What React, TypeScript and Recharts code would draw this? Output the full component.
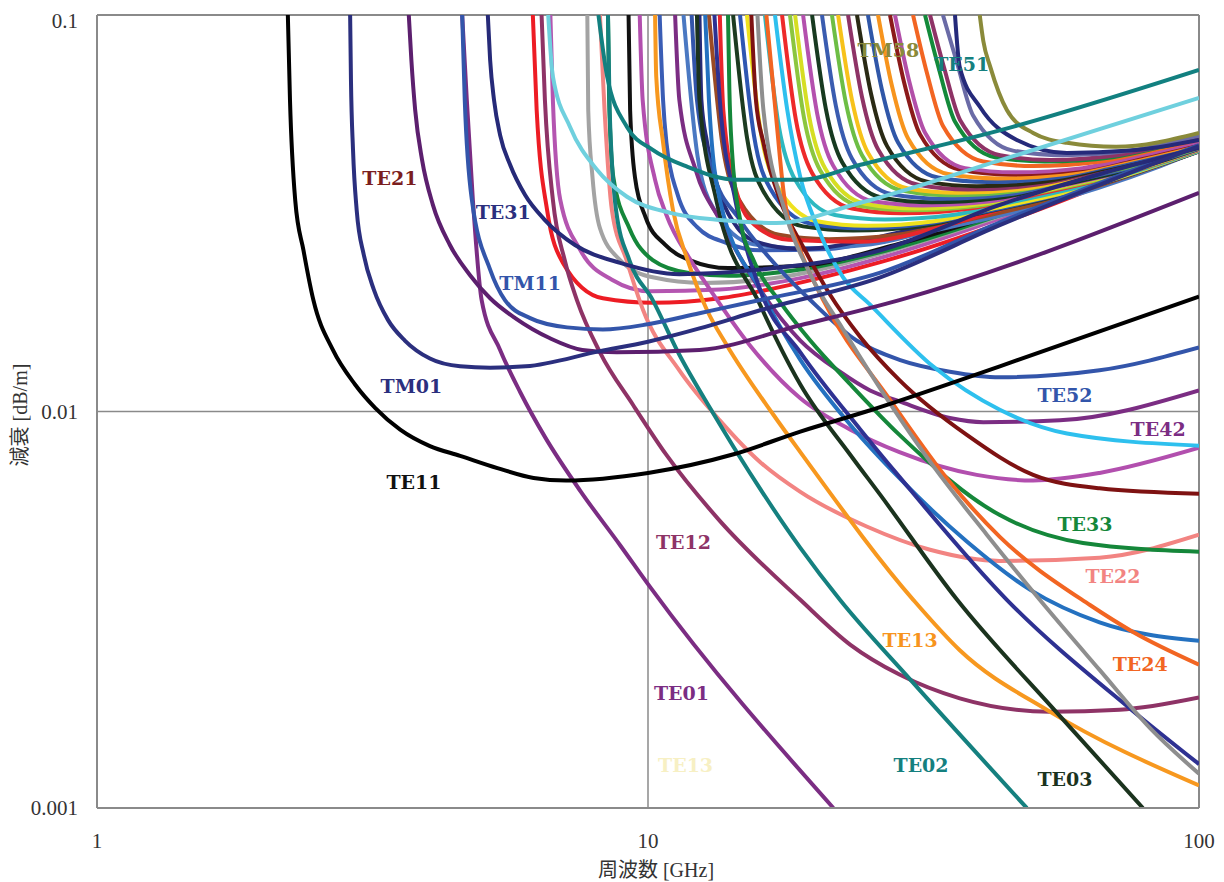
import React from 'react';
import { LineChart, Line, XAxis, YAxis, ReferenceLine, ReferenceDot } from 'recharts';

type Pt = [number, number]; // [frequency GHz, attenuation dB/m]

const xTicks = [1, 10, 100];
const yTicks = [0.001, 0.01, 0.1];

// low order modes
const te11: Pt[] = [[2.22, 0.1], [2.24, 0.061], [2.29, 0.034], [2.37, 0.0255], [2.47, 0.0191], [2.68, 0.0143], [2.94, 0.0117], [3.2, 0.0102], [3.55, 0.009], [4.02, 0.00818], [4.56, 0.00773], [5.33, 0.0072], [6.2, 0.0068], [7.1, 0.0067], [10, 0.007], [14.3, 0.0078], [18.9, 0.0089], [24.9, 0.01], [43.5, 0.013], [100, 0.0195]];
const tm01: Pt[] = [[2.88, 0.1], [2.89, 0.0686], [2.915, 0.0457], [2.96, 0.0322], [3.05, 0.0248], [3.18, 0.0203], [3.375, 0.017], [3.62, 0.0151], [4.02, 0.0136], [4.56, 0.013], [5.17, 0.0129], [6.0, 0.013], [8.18, 0.0142], [10, 0.015], [12.4, 0.0162], [15.97, 0.018], [26.4, 0.0218], [43.5, 0.0295], [100, 0.0467]];
const te21: Pt[] = [[3.68, 0.1], [3.72, 0.077], [3.78, 0.0575], [3.89, 0.0431], [4.07, 0.0332], [4.37, 0.0263], [4.75, 0.0221], [5.17, 0.0193], [5.74, 0.0172], [6.64, 0.0153], [7.6, 0.0143], [8.78, 0.0141], [12.4, 0.0143], [18.9, 0.0165], [28.6, 0.0191], [100, 0.0356]];
const te01: Pt[] = [[4.6, 0.1], [4.69, 0.061], [4.81, 0.0342], [4.99, 0.0191], [5.39, 0.0143], [5.86, 0.0112], [6.5, 0.00863], [7.54, 0.0063], [8.9, 0.0046], [10.1, 0.0036], [21.7, 0.001]];
const tm11: Pt[] = [[4.6, 0.1], [4.65, 0.061], [4.79, 0.0342], [5.17, 0.0228], [5.5, 0.0191], [6.11, 0.0172], [7.13, 0.0163], [8.28, 0.0161], [10, 0.0166], [12.4, 0.0177], [15.97, 0.0191], [26.4, 0.0224], [43.5, 0.03], [100, 0.047]];
const te31: Pt[] = [[5.12, 0.1], [5.17, 0.077], [5.255, 0.061], [5.39, 0.0498], [5.62, 0.0419], [5.98, 0.0352], [6.5, 0.0304], [7.37, 0.0263], [8.9, 0.0237], [11.4, 0.0222], [15.97, 0.0228], [26.4, 0.0255], [43.5, 0.0332], [100, 0.0462]];

// modes falling towards the lower right
const te12: Pt[] = [[6.41, 0.1], [6.5, 0.061], [6.72, 0.0342], [7.06, 0.0241], [7.43, 0.0191], [8.18, 0.0141], [9.39, 0.0104], [10.8, 0.00777], [13.5, 0.0053], [18.9, 0.00335], [23.3, 0.00258], [28.6, 0.00217], [36.8, 0.00189], [53.6, 0.00175], [71.8, 0.00177], [100, 0.0019]];
const te02: Pt[] = [[8.46, 0.1], [8.52, 0.0575], [8.75, 0.0322], [9.25, 0.0241], [10.2, 0.0191], [11.4, 0.0139], [12.96, 0.0102], [14.3, 0.00814], [18.9, 0.00453], [22.3, 0.00335], [29.9, 0.00211], [48.7, 0.001]];
const te03: Pt[] = [[12.27, 0.1], [12.4, 0.061], [13.3, 0.0342], [15.97, 0.0186], [18.9, 0.0117], [23.3, 0.00777], [26.4, 0.00616], [36.4, 0.00335], [55.2, 0.00174], [79.1, 0.001]];
const te13: Pt[] = [[10.3, 0.1], [10.35, 0.07], [10.65, 0.0477], [11.1, 0.0322], [11.8, 0.0241], [12.8, 0.018], [13.9, 0.0147], [16.9, 0.0098], [18.9, 0.0079], [30.3, 0.00335], [36.8, 0.0025], [53.6, 0.00175], [100, 0.00114]];
const te22: Pt[] = [[8.18, 0.1], [8.34, 0.0575], [8.6, 0.0322], [9.14, 0.0241], [9.8, 0.018], [11.4, 0.0127], [13.5, 0.0095], [15.97, 0.00746], [18.9, 0.00627], [25, 0.00512], [32.5, 0.00448], [43.5, 0.0042], [66, 0.00428], [100, 0.00489]];
const te33: Pt[] = [[13.97, 0.1], [14.05, 0.065], [14.2, 0.0457], [14.7, 0.0304], [15.6, 0.0238], [17.36, 0.0189], [19.7, 0.0151], [23.3, 0.0117], [28.6, 0.00873], [43.5, 0.00548], [61.6, 0.00466], [100, 0.00443]];
const te42: Pt[] = [[11.2, 0.1], [11.4, 0.061], [12.2, 0.0407], [13.5, 0.0304], [15.97, 0.0203], [18.9, 0.0151], [22.3, 0.0126], [25.3, 0.0113], [28.6, 0.0106], [35.3, 0.00963], [40.6, 0.0094], [55.9, 0.0095], [100, 0.0113]];
const te52: Pt[] = [[12.0, 0.1], [12.27, 0.061], [13.07, 0.0407], [14.69, 0.0304], [17.36, 0.0228], [19.7, 0.0191], [23.9, 0.0151], [28.6, 0.0135], [35.3, 0.0126], [43.5, 0.0122], [66, 0.0127], [100, 0.0145]];
const te32: Pt[] = [[9.66, 0.1], [9.78, 0.061], [10.3, 0.0384], [10.8, 0.0313], [11.9, 0.0243], [12.96, 0.0203], [15.3, 0.0147], [18.9, 0.0108], [23.3, 0.009], [28.6, 0.0079], [39.5, 0.00692], [50, 0.0067], [66, 0.007], [100, 0.0081]];
const te24: Pt[] = [[16.4, 0.1], [17.1, 0.0543], [17.7, 0.0342], [18.9, 0.0255], [20.8, 0.0191], [27.5, 0.0107], [35.3, 0.00664], [43.5, 0.00483], [63.4, 0.00325], [75.9, 0.00278], [100, 0.0023]];
const skyDrop: Pt[] = [[17.0, 0.1], [17.9, 0.0575], [18.9, 0.039], [20.3, 0.0292], [22.6, 0.0218], [25.3, 0.0186], [32.9, 0.013], [43.5, 0.0101], [57.6, 0.0088], [100, 0.0082]];
const maroonDrop: Pt[] = [[15.4, 0.1], [15.7, 0.061], [16.2, 0.0476], [17.36, 0.0342], [19.27, 0.0255], [21.4, 0.0197], [24.3, 0.0154], [28.6, 0.012], [37.9, 0.00873], [50, 0.00692], [66, 0.0064], [100, 0.0062]];
const blueDrop: Pt[] = [[12.7, 0.1], [12.9, 0.061], [13.5, 0.0342], [15.97, 0.0203], [18.9, 0.0135], [23.3, 0.00925], [28.6, 0.00679], [37.9, 0.0047], [49.4, 0.00355], [66, 0.00294], [100, 0.00264]];
const grayDrop: Pt[] = [[15.8, 0.1], [16.2, 0.0575], [17.7, 0.0322], [19.7, 0.0222], [22.6, 0.0161], [32.9, 0.0073], [41.2, 0.00489], [51.4, 0.00335], [66, 0.00223], [81.5, 0.00159], [100, 0.00122]];
const navyDrop: Pt[] = [[13.2, 0.1], [13.5, 0.061], [14.4, 0.0342], [15.97, 0.0203], [18.9, 0.0141], [24.3, 0.009], [28.6, 0.00684], [44.8, 0.00335], [75, 0.00178], [100, 0.00129]];

// broad curves rising to the right
const tealBroad: Pt[] = [[8.13, 0.1], [8.43, 0.07], [9.16, 0.0522], [10.2, 0.0457], [11.8, 0.0414], [14.5, 0.0384], [18.9, 0.0384], [24.3, 0.0419], [45.4, 0.052], [100, 0.0727]];
const cyanBroad: Pt[] = [[6.59, 0.1], [6.72, 0.07], [7.22, 0.0522], [8.08, 0.0407], [9.16, 0.0348], [10.97, 0.0317], [13.5, 0.0304], [17.1, 0.0299], [24.3, 0.0336], [45.4, 0.0438], [100, 0.0618]];

// the dense bundle
const tm21: Pt[] = [[6.18, 0.1], [6.28, 0.0575], [6.56, 0.0322], [7.01, 0.0237], [8.28, 0.0193], [10.2, 0.0188], [13.5, 0.0193], [17.1, 0.0205], [26.4, 0.0238], [45.4, 0.0304], [100, 0.047]];
const tm02: Pt[] = [[6.65, 0.1], [6.72, 0.061], [6.93, 0.0342], [7.54, 0.0255], [8.6, 0.0215], [10.1, 0.0201], [13.5, 0.0203], [18.9, 0.0217], [28.6, 0.0252], [45.4, 0.0313], [100, 0.0475]];
const grayB: Pt[] = [[7.76, 0.1], [7.79, 0.0575], [7.93, 0.039], [8.18, 0.029], [8.9, 0.0241], [10.2, 0.0218], [12.6, 0.0211], [17.36, 0.0218], [26.4, 0.025], [45.4, 0.0317], [100, 0.047]];
const tm12: Pt[] = [[8.46, 0.1], [8.5, 0.061], [8.65, 0.039], [9.25, 0.029], [10.2, 0.0241], [11.8, 0.0224], [14.0, 0.022], [18.9, 0.0228], [28.6, 0.026], [45.4, 0.0319], [100, 0.0473]];
const blackB: Pt[] = [[9.22, 0.1], [9.28, 0.0575], [9.47, 0.039], [9.9, 0.0309], [10.75, 0.0263], [11.9, 0.0241], [14.0, 0.023], [18.9, 0.0233], [28.6, 0.0265], [45.4, 0.0322], [100, 0.047]];
const blueB1: Pt[] = [[10.5, 0.1], [10.65, 0.061], [10.8, 0.0477], [11.3, 0.0355], [12.27, 0.0292], [13.9, 0.0266], [15.97, 0.0255], [21.3, 0.0257], [29.9, 0.0287], [45.4, 0.0332], [100, 0.0467]];
const steelB: Pt[] = [[11.6, 0.1], [12.3, 0.0441], [13.15, 0.0325], [15.54, 0.0264], [19.14, 0.0258], [25.4, 0.0264], [31.2, 0.0281], [49.42, 0.0326], [85.14, 0.0416], [100, 0.0455]];
const navyB: Pt[] = [[12.4, 0.1], [12.5, 0.061], [12.8, 0.0477], [13.5, 0.0355], [14.5, 0.0292], [15.97, 0.0266], [18.9, 0.0257], [28.6, 0.0283], [45.4, 0.0336], [100, 0.0465]];
const brownB: Pt[] = [[12.9, 0.1], [13.67, 0.0465], [14.63, 0.0342], [17.29, 0.0279], [21.29, 0.0272], [28.25, 0.0279], [34.7, 0.0296], [54.95, 0.0344], [100, 0.0453]];
const redB2: Pt[] = [[13.5, 0.1], [13.7, 0.0575], [14.5, 0.0355], [15.6, 0.0296], [18.0, 0.0271], [24.3, 0.0268], [35.2, 0.0296], [53.6, 0.0355], [100, 0.047]];
const bA: Pt[] = [[14.27, 0.1], [15.13, 0.0489], [16.18, 0.036], [19.12, 0.0293], [23.55, 0.0286], [31.25, 0.0293], [38.39, 0.0312], [60.8, 0.0362], [100, 0.0453]];
const bB: Pt[] = [[14.69, 0.1], [15.57, 0.0497], [16.66, 0.0365], [19.68, 0.0298], [24.24, 0.029], [32.17, 0.0298], [39.52, 0.0316], [62.58, 0.0367], [100, 0.0453]];
const bC: Pt[] = [[15.12, 0.1], [16.03, 0.0504], [17.15, 0.0371], [20.26, 0.0302], [24.95, 0.0294], [33.11, 0.0302], [40.67, 0.0321], [64.41, 0.0372], [100, 0.0454]];
const bE: Pt[] = [[16.3, 0.1], [17.28, 0.0523], [18.48, 0.0385], [21.84, 0.0313], [26.9, 0.0305], [35.7, 0.0313], [43.85, 0.0333], [69.44, 0.0387], [100, 0.0455]];
const bF: Pt[] = [[17.51, 0.1], [18.56, 0.0542], [19.86, 0.0399], [23.46, 0.0325], [28.89, 0.0316], [38.35, 0.0325], [47.1, 0.0345], [74.59, 0.0401], [100, 0.0457]];
const bG: Pt[] = [[18.1, 0.1], [19.19, 0.0551], [20.53, 0.0406], [24.25, 0.033], [29.87, 0.0322], [39.64, 0.033], [48.69, 0.0351], [77.11, 0.0407], [100, 0.0458]];
const bH: Pt[] = [[18.49, 0.1], [19.6, 0.0557], [20.97, 0.041], [24.78, 0.0334], [30.51, 0.0325], [40.49, 0.0334], [49.74, 0.0355], [78.77, 0.0412], [100, 0.0458]];
const bI: Pt[] = [[19.12, 0.1], [20.27, 0.0566], [21.68, 0.0417], [25.62, 0.0339], [31.55, 0.0331], [41.87, 0.0339], [51.43, 0.0361], [81.45, 0.0419], [100, 0.0459]];
const bJ: Pt[] = [[19.85, 0.1], [21.04, 0.0577], [22.51, 0.0425], [26.6, 0.0346], [32.75, 0.0337], [43.47, 0.0346], [53.4, 0.0367], [84.56, 0.0426], [100, 0.046]];
const bK: Pt[] = [[20.69, 0.1], [21.93, 0.0589], [23.46, 0.0434], [27.72, 0.0353], [34.14, 0.0344], [45.31, 0.0353], [55.66, 0.0375], [88.14, 0.0436], [100, 0.0461]];
const bL: Pt[] = [[21.57, 0.1], [22.86, 0.0601], [24.46, 0.0443], [28.9, 0.0361], [35.59, 0.0351], [47.24, 0.0361], [58.02, 0.0383], [91.89, 0.0445], [100, 0.0462]];
const bM: Pt[] = [[22.13, 0.1], [23.46, 0.0609], [25.1, 0.0448], [29.65, 0.0365], [36.51, 0.0356], [48.46, 0.0365], [59.53, 0.0388], [100, 0.0462]];
const bN: Pt[] = [[23.07, 0.1], [24.45, 0.0622], [26.16, 0.0458], [30.91, 0.0373], [38.07, 0.0363], [50.52, 0.0373], [62.06, 0.0396], [100, 0.0463]];
const bO: Pt[] = [[23.95, 0.1], [25.39, 0.0634], [27.16, 0.0467], [32.09, 0.038], [39.52, 0.037], [52.45, 0.038], [64.43, 0.0404], [100, 0.0466]];
const bP: Pt[] = [[25.07, 0.1], [26.57, 0.0649], [28.43, 0.0477], [33.59, 0.0389], [41.37, 0.0379], [54.9, 0.0389], [67.44, 0.0413], [100, 0.0469]];
const bQ: Pt[] = [[26.15, 0.1], [27.72, 0.0662], [29.65, 0.0488], [35.04, 0.0397], [43.15, 0.0387], [57.27, 0.0397], [70.34, 0.0422], [100, 0.0473]];
const bR: Pt[] = [[27.49, 0.1], [29.14, 0.0679], [31.17, 0.05], [36.84, 0.0407], [45.36, 0.0396], [60.2, 0.0407], [73.95, 0.0432], [100, 0.0477]];
const bS: Pt[] = [[28.07, 0.1], [29.75, 0.0686], [31.83, 0.0505], [37.61, 0.0411], [46.32, 0.0401], [61.47, 0.0411], [75.51, 0.0437], [100, 0.0479]];
const bT: Pt[] = [[30.27, 0.1], [32.09, 0.0713], [34.33, 0.0524], [40.56, 0.0427], [49.95, 0.0416], [66.29, 0.0427], [81.43, 0.0454], [100, 0.0485]];
const bU: Pt[] = [[31.82, 0.1], [33.73, 0.0731], [36.08, 0.0538], [42.64, 0.0438], [52.5, 0.0427], [69.69, 0.0438], [85.6, 0.0465], [100, 0.0489]];
const bV: Pt[] = [[32.5, 0.1], [34.45, 0.0738], [36.86, 0.0543], [43.55, 0.0443], [53.63, 0.0431], [71.18, 0.0443], [87.43, 0.047], [100, 0.0491]];
const bW: Pt[] = [[34.3, 0.1], [36.36, 0.0759], [38.9, 0.0558], [45.96, 0.0455], [56.6, 0.0443], [75.12, 0.0455], [92.27, 0.0483], [100, 0.0496]];
const bX: Pt[] = [[36.07, 0.1], [36.8, 0.0738], [40.05, 0.0586], [46.7, 0.0484], [57.6, 0.0449], [75, 0.0455], [100, 0.0484]];
const bY: Pt[] = [[40, 0.1], [40.6, 0.086], [41.8, 0.074], [44.8, 0.0576], [50, 0.0504], [57.6, 0.0476], [70.7, 0.0465], [100, 0.0504]];

const series: { id: string; pts: Pt[]; color: string }[] = [
  { id: 'tm21', pts: tm21, color: '#ED1C24' },
  { id: 'tm02', pts: tm02, color: '#B455B0' },
  { id: 'grayB', pts: grayB, color: '#A3A3A3' },
  { id: 'tm12', pts: tm12, color: '#15873A' },
  { id: 'blackB', pts: blackB, color: '#111111' },
  { id: 'blueB1', pts: blueB1, color: '#3A5DB5' },
  { id: 'steelB', pts: steelB, color: '#4A78C2' },
  { id: 'navyB', pts: navyB, color: '#262A78' },
  { id: 'brownB', pts: brownB, color: '#9A4A25' },
  { id: 'redB2', pts: redB2, color: '#E8262B' },
  { id: 'bA', pts: bA, color: '#1C3B20' },
  { id: 'bB', pts: bB, color: '#2E56B2' },
  { id: 'bC', pts: bC, color: '#EFE21E' },
  { id: 'bE', pts: bE, color: '#2DB8C0' },
  { id: 'bF', pts: bF, color: '#EE2A2A' },
  { id: 'bG', pts: bG, color: '#8CC63E' },
  { id: 'bH', pts: bH, color: '#D6DE23' },
  { id: 'bI', pts: bI, color: '#B450AE' },
  { id: 'bJ', pts: bJ, color: '#173A20' },
  { id: 'bK', pts: bK, color: '#3A5CB0' },
  { id: 'bL', pts: bL, color: '#6DBE45' },
  { id: 'bM', pts: bM, color: '#F7C21A' },
  { id: 'bN', pts: bN, color: '#8E3366' },
  { id: 'bO', pts: bO, color: '#2A2A14' },
  { id: 'bP', pts: bP, color: '#3057A8' },
  { id: 'bQ', pts: bQ, color: '#F7941D' },
  { id: 'bR', pts: bR, color: '#8B1A1A' },
  { id: 'bS', pts: bS, color: '#B24FA8' },
  { id: 'bT', pts: bT, color: '#F26522' },
  { id: 'bU', pts: bU, color: '#138A3A' },
  { id: 'bV', pts: bV, color: '#8E3366' },
  { id: 'bW', pts: bW, color: '#6A6BA6' },
  { id: 'bX', pts: bX, color: '#252A7A' },
  { id: 'bY', pts: bY, color: '#8A8A3A' },
  { id: 'te12', pts: te12, color: '#8E3366' },
  { id: 'te22', pts: te22, color: '#F28482' },
  { id: 'te02', pts: te02, color: '#15807F' },
  { id: 'te32', pts: te32, color: '#B24FAE' },
  { id: 'te13', pts: te13, color: '#F7981F' },
  { id: 'te42', pts: te42, color: '#7B2D83' },
  { id: 'te52', pts: te52, color: '#3355AA' },
  { id: 'te03', pts: te03, color: '#1B331E' },
  { id: 'blueDrop', pts: blueDrop, color: '#2471C0' },
  { id: 'navyDrop', pts: navyDrop, color: '#2E3192' },
  { id: 'te33', pts: te33, color: '#15873A' },
  { id: 'maroonDrop', pts: maroonDrop, color: '#7E1212' },
  { id: 'te24', pts: te24, color: '#F26522' },
  { id: 'grayDrop', pts: grayDrop, color: '#8E8E8E' },
  { id: 'skyDrop', pts: skyDrop, color: '#2EC0EE' },
  { id: 'tealBroad', pts: tealBroad, color: '#128080' },
  { id: 'cyanBroad', pts: cyanBroad, color: '#6FD0DE' },
  { id: 'te01', pts: te01, color: '#7B2D83' },
  { id: 'tm11', pts: tm11, color: '#3355AA' },
  { id: 'te21', pts: te21, color: '#5C1F6E' },
  { id: 'te31', pts: te31, color: '#262A78' },
  { id: 'tm01', pts: tm01, color: '#2B2F7E' },
  { id: 'te11', pts: te11, color: '#000000' },
];

const labels = [
  { text: 'TE21', f: 3.4, a: 0.0388, color: '#7B1E1E' },
  { text: 'TE31', f: 5.46, a: 0.0318, color: '#2B2F7E' },
  { text: 'TM11', f: 6.11, a: 0.021, color: '#3355AA' },
  { text: 'TM01', f: 3.72, a: 0.0116, color: '#2B2F7E' },
  { text: 'TE11', f: 3.76, a: 0.00664, color: '#111111' },
  { text: 'TE12', f: 11.6, a: 0.00469, color: '#8E3366' },
  { text: 'TE01', f: 11.5, a: 0.00195, color: '#7B2D83' },
  { text: 'TE13', f: 11.7, a: 0.00128, color: '#F7F0C4' },
  { text: 'TE13', f: 29.9, a: 0.00265, color: '#F7941D' },
  { text: 'TE02', f: 31.3, a: 0.00128, color: '#15807F' },
  { text: 'TE03', f: 57.1, a: 0.00118, color: '#1B331E' },
  { text: 'TE24', f: 78.2, a: 0.0023, color: '#F26522' },
  { text: 'TE22', f: 69.8, a: 0.00385, color: '#F28482' },
  { text: 'TE33', f: 62.1, a: 0.0052, color: '#15873A' },
  { text: 'TE42', f: 84.3, a: 0.009, color: '#7B2D83' },
  { text: 'TE52', f: 57.1, a: 0.011, color: '#3355AA' },
  { text: 'TM58', f: 27.3, a: 0.0816, color: '#8A8A3A' },
  { text: 'TE51', f: 37.1, a: 0.0752, color: '#15807F' },
];

const rows = (pts: Pt[]) => pts.map(([f, a]) => ({ f, a }));

const W = 1210;
const H = 874;
const serif = "'Liberation Serif', 'Noto Sans CJK JP', serif";

const XTitle = () => (
  <text x={648} y={869} textAnchor="middle" fill="#333" fontSize={20} fontFamily={serif}>
    周波数 [GHz]
  </text>
);

const YTitle = () => (
  <text x={12} y={407} transform="rotate(-90 12 407)" textAnchor="middle" dominantBaseline="central"
    fill="#333" fontSize={20} fontFamily={serif}>
    減衰 [dB/m]
  </text>
);

export default function App() {
  return (
    <div style={{ width: W, height: H }}>
      <LineChart width={W} height={H} margin={{ top: 7, right: 19, bottom: 0, left: 0 }}>
        <XAxis dataKey="f" type="number" scale="log" domain={[1, 100]} ticks={xTicks} allowDataOverflow
          height={74} axisLine={{ stroke: '#8a8a8a', strokeWidth: 2 }} tickLine={false} tickSize={6} tickMargin={19}
          tick={{ fill: '#333', fontSize: 21, fontFamily: serif }} label={<XTitle />} />
        <YAxis type="number" scale="log" domain={[0.001, 0.1]} ticks={yTicks} allowDataOverflow
          width={89} axisLine={{ stroke: '#8a8a8a', strokeWidth: 2 }} tickLine={false} tickSize={6} tickMargin={13}
          tick={{ fill: '#333', fontSize: 21, fontFamily: serif }} label={<YTitle />} />
        <ReferenceLine x={10} stroke="#8a8a8a" strokeWidth={1.5} />
        <ReferenceLine y={0.01} stroke="#8a8a8a" strokeWidth={1.5} />
        <ReferenceLine y={0.1} stroke="#8a8a8a" strokeWidth={2} />
        <ReferenceLine x={100} stroke="#8a8a8a" strokeWidth={2} />
        {series.map((s) => (
          <Line key={s.id} data={rows(s.pts)} dataKey="a" type="monotone" stroke={s.color}
            strokeWidth={4} dot={false} activeDot={false} isAnimationActive={false} />
        ))}
        {labels.map((l, i) => (
          <ReferenceDot key={i} x={l.f} y={l.a} r={0} fill="none" stroke="none"
            label={{ value: l.text, position: 'center', fill: l.color, fontSize: 19, fontWeight: 700, fontFamily: "'DejaVu Serif', serif" }} />
        ))}
      </LineChart>
    </div>
  );
}
